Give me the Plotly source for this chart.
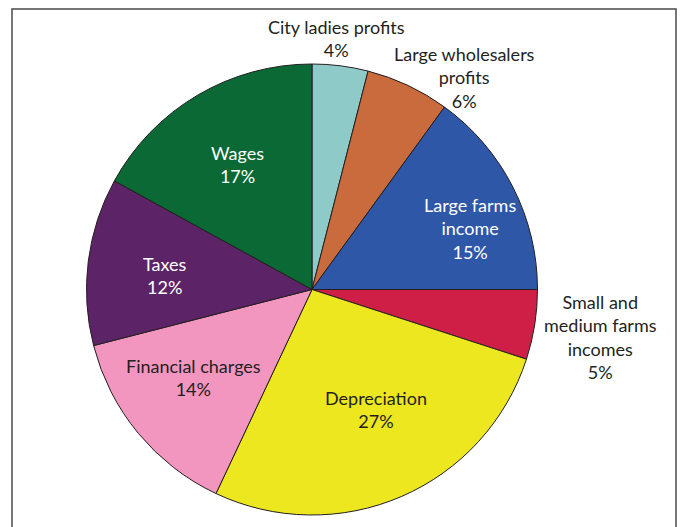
import plotly.graph_objects as go

# Income distribution shares (percent), clockwise from 12 o'clock
categories = [
    "City ladies profits",
    "Large wholesalers profits",
    "Large farms income",
    "Small and medium farms incomes",
    "Depreciation",
    "Financial charges",
    "Taxes",
    "Wages",
]
shares = [4, 6, 15, 5, 27, 14, 12, 17]

colors = ["#8ECAC8", "#C96B3D", "#2F57A7", "#D01F47",
          "#EDE71F", "#F396BF", "#5C2466", "#0A6934"]

# How each category name is wrapped on screen
wrapped = [
    "City ladies profits",
    "Large wholesalers<br>profits",
    "Large farms<br>income",
    "Small and<br>medium farms<br>incomes",
    "Depreciation",
    "Financial charges",
    "Taxes",
    "Wages",
]
# Label anchor positions (pixels from top-left) and text colours
label_xy = [(336, 38), (464, 78), (470, 228), (600, 337),
            (376, 409), (193, 377), (165, 275), (237, 164)]
label_color = ["#231F20", "#231F20", "white", "#231F20",
               "#231F20", "#231F20", "white", "white"]

W, H = 681, 527
cx, cy, r = 312, 289.5, 225.5

fig = go.Figure(go.Pie(
    labels=categories,
    values=shares,
    sort=False,
    direction="clockwise",
    rotation=0,
    marker=dict(colors=colors, line=dict(color="#231F20", width=1)),
    textinfo="none",
    hoverinfo="label+percent",
    domain=dict(x=[(cx - r) / W, (cx + r) / W],
                y=[(H - cy - r) / H, (H - cy + r) / H]),
    showlegend=False,
))

for name, val, (px, py), col in zip(wrapped, shares, label_xy, label_color):
    fig.add_annotation(
        x=px / W, y=1 - py / H, xref="paper", yref="paper",
        text=f"{name}<br>{val}%", showarrow=False,
        font=dict(family="Lato", size=18, color=col),
        align="center", xanchor="center", yanchor="middle",
    )

# Outer frame
fig.add_shape(type="rect", xref="paper", yref="paper",
              x0=12 / W, x1=676 / W, y0=-0.05, y1=1 - 9 / H,
              line=dict(color="#4A4A4A", width=1.5))

fig.update_layout(
    width=W, height=H,
    margin=dict(l=0, r=0, t=0, b=0),
    paper_bgcolor="white",
    plot_bgcolor="white",
)

fig.write_html("out.html")
